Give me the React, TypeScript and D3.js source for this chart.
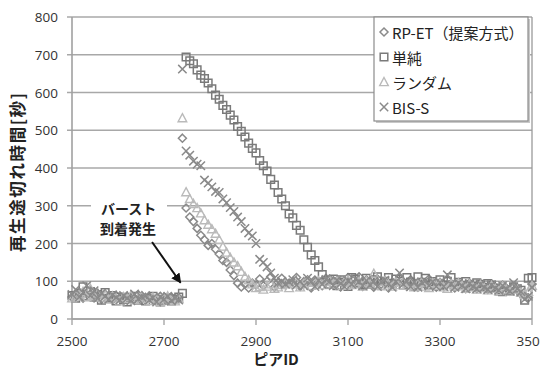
import React from 'react';
import * as d3 from 'd3';

// Peer IDs sampled every 8 peers
const peerIds: number[] = d3.range(2500, 3501, 8);
const xTicks = [2500, 2700, 2900, 3100, 3300, 3500];
const yTicks = [0, 100, 200, 300, 400, 500, 600, 700, 800];
const legendNames = ['RP-ET（提案方式）', '単純', 'ランダム', 'BIS-S'];

const rpEt = [
  58, 62, 70, 55, 78, 65, 72, 60, 52, 66,
  58, 50, 62, 55, 48, 60, 57, 52, 64, 55,
  50, 58, 53, 47, 60, 55, 50, 58, 52, 56,
  479, 294, 270, 258, 240, 222, 210, 195, 200, 185,
  172, 155, 150, 130, 115, 95, 85, 92, 82, 95,
  90, 106, 88, 100, 112, 84, 97, 108, 90, 95,
  99, 110, 86, 93, 104, 82, 103, 98, 88, 108,
  106, 90, 102, 85, 100, 110, 92, 93, 112, 86,
  104, 96, 84, 106, 92, 100, 82, 98, 95, 108,
  97, 86, 104, 96, 84, 98, 90, 106, 95, 84,
  97, 88, 104, 94, 82, 96, 90, 80, 94, 86,
  80, 93, 86, 78, 91, 84, 76, 90, 82, 74,
  88, 80, 66, 62, 56, 92,
];

const tanjun = [
  62, 55, 68, 85, 60, 72, 58, 65, 50, 70,
  55, 62, 48, 58, 52, 45, 56, 60, 50, 54,
  48, 55, 60, 52, 45, 50, 56, 48, 53, 58,
  68, 694, 684, 676, 660, 646, 637, 625, 610, 593,
  582, 566, 555, 540, 527, 510, 497, 482, 466, 452,
  440, 420, 406, 392, 370, 355, 335, 318, 300, 278,
  268, 248, 235, 210, 190, 170, 155, 138, 118, 102,
  92, 106, 88, 104, 98, 86, 110, 106, 94, 90,
  108, 92, 104, 112, 88, 100, 110, 94, 106, 100,
  90, 110, 98, 86, 112, 97, 108, 90, 99, 88,
  104, 90, 100, 110, 86, 97, 88, 99, 92, 86,
  96, 92, 84, 94, 90, 82, 74, 72, 76, 73,
  85, 80, 76, 50, 108, 110,
];

const randomSel = [
  55, 60, 65, 72, 58, 80, 62, 68, 57, 63,
  52, 60, 55, 47, 58, 53, 62, 50, 56, 60,
  54, 48, 57, 52, 45, 55, 60, 50, 47, 53,
  532, 336, 318, 305, 294, 280, 262, 250, 238, 226,
  210, 192, 176, 162, 150, 140, 125, 112, 103, 92,
  82, 85, 78, 86, 92, 80, 84, 90, 95, 82,
  92, 96, 84, 94, 98, 88, 96, 100, 90, 98,
  102, 92, 100, 88, 98, 103, 90, 92, 99, 86,
  100, 92, 120, 98, 88, 100, 92, 86, 98, 90,
  98, 88, 96, 84, 94, 97, 86, 82, 95, 88,
  94, 84, 80, 93, 86, 95, 88, 80, 92, 84,
  78, 90, 82, 76, 88, 80, 74, 87, 78, 72,
  85, 78, 70, 64, 72, 88,
];

const bisS = [
  65, 78, 58, 70, 88, 62, 75, 55, 68, 60,
  52, 64, 57, 50, 62, 55, 48, 66, 53, 58,
  62, 50, 56, 45, 58, 52, 60, 48, 55, 50,
  662, 445, 434, 418, 410, 406, 368, 360, 350, 338,
  335, 318, 308, 295, 285, 270, 258, 240, 228, 220,
  200, 158, 150, 138, 122, 108, 95, 100, 92, 98,
  104, 90, 100, 88, 108, 99, 86, 102, 92, 105,
  100, 88, 103, 94, 86, 101, 92, 106, 99, 88,
  102, 90, 100, 86, 98, 103, 92, 84, 99, 122,
  92, 100, 86, 98, 84, 97, 101, 88, 99, 86,
  97, 86, 117, 92, 84, 96, 88, 80, 94, 86,
  80, 92, 84, 78, 90, 82, 76, 88, 80, 74,
  96, 80, 72, 52, 60, 84,
];

type Shape = 'diamond' | 'square' | 'triangle' | 'cross';

const seriesList: { name: string; values: number[]; shape: Shape; color: string; width: number }[] = [
  { name: legendNames[0], values: rpEt, shape: 'diamond', color: '#8a8a8a', width: 1.5 },
  { name: legendNames[1], values: tanjun, shape: 'square', color: '#7a7a7a', width: 1.5 },
  { name: legendNames[2], values: randomSel, shape: 'triangle', color: '#bababa', width: 1.4 },
  { name: legendNames[3], values: bisS, shape: 'cross', color: '#8a8a8a', width: 1.5 },
];

function markerPath(shape: Shape, cx: number, cy: number): string {
  const p = d3.path();
  if (shape === 'diamond') {
    const r = 4;
    p.moveTo(cx, cy - r); p.lineTo(cx + r, cy); p.lineTo(cx, cy + r); p.lineTo(cx - r, cy); p.closePath();
  } else if (shape === 'square') {
    const h = 3.8;
    p.rect(cx - h, cy - h, 2 * h, 2 * h);
  } else if (shape === 'triangle') {
    p.moveTo(cx, cy - 4.5); p.lineTo(cx + 4.3, cy + 3.6); p.lineTo(cx - 4.3, cy + 3.6); p.closePath();
  } else {
    const r = 4.2;
    p.moveTo(cx - r, cy - r); p.lineTo(cx + r, cy + r);
    p.moveTo(cx + r, cy - r); p.lineTo(cx - r, cy + r);
  }
  return p.toString();
}

export default function App() {
  const W = 540, H = 367;
  const left = 72, right = 532, top = 17, bottom = 319;
  const x = d3.scaleLinear().domain([2500, 3500]).range([left, right]);
  const y = d3.scaleLinear().domain([0, 800]).range([bottom, top]);
  const numFont = '"Open Sans", "DejaVu Sans", sans-serif';
  const jpFont = '"Noto Sans CJK JP", "Noto Sans", sans-serif';
  const gridColor = '#a8a8a8';

  // annotation anchor (data coords)
  const arrowFrom = [x(2674), y(204)];
  const arrowTo = [x(2736), y(96)];

  return (
    <svg width={W} height={H} style={{ position: 'absolute', left: 0, top: 0, background: '#fff' }}>
      <defs>
        <marker id="ah" viewBox="0 0 10 10" refX="9" refY="5" markerWidth="5" markerHeight="5" orient="auto">
          <path d="M0,0 L10,5 L0,10 Z" fill="#111" />
        </marker>
      </defs>
      <rect x={0} y={0} width={W} height={H} fill="#fff" />
      {/* gridlines */}
      {yTicks.map(t => (
        <line key={'g' + t} x1={left - 5} x2={right} y1={y(t)} y2={y(t)} stroke={gridColor} strokeWidth={1.3} />
      ))}
      {/* frame */}
      <line x1={right} x2={right} y1={top} y2={bottom} stroke="#9a9a9a" strokeWidth={1.3} />
      <line x1={left} x2={left} y1={top} y2={bottom} stroke="#a0a0a0" strokeWidth={1.6} />
      <line x1={left} x2={right} y1={bottom} y2={bottom} stroke="#a0a0a0" strokeWidth={1.6} />
      {xTicks.map(t => (
        <line key={'xt' + t} x1={x(t)} x2={x(t)} y1={bottom} y2={bottom + 6} stroke="#a0a0a0" strokeWidth={1.3} />
      ))}
      {/* tick labels */}
      {yTicks.map(t => (
        <text key={'yl' + t} x={58} y={y(t)} textAnchor="end" dominantBaseline="central"
          fontFamily={numFont} fontSize={13.5} fill="#333">{t}</text>
      ))}
      {xTicks.map(t => (
        <text key={'xl' + t} x={x(t)} y={341} textAnchor="middle" dominantBaseline="central"
          fontFamily={numFont} fontSize={13.5} fill="#333">{t}</text>
      ))}
      {/* annotation background */}
      <rect x={91} y={197} width={76} height={40} fill="#fff" />
      {/* series markers */}
      {seriesList.map(s => (
        <g key={s.name}>
          {s.values.map((v, i) => (
            <path key={i} d={markerPath(s.shape, x(peerIds[i]), y(v))} fill="none"
              stroke={s.color} strokeWidth={s.width} />
          ))}
        </g>
      ))}
      {/* annotation */}
      <text x={101} y={208} dominantBaseline="central" fontFamily={jpFont} fontWeight="bold" fontSize={14} fill="#222">バースト</text>
      <text x={100} y={228} dominantBaseline="central" fontFamily={jpFont} fontWeight="bold" fontSize={14} fill="#222">到着発生</text>
      <line x1={arrowFrom[0]} y1={arrowFrom[1]} x2={arrowTo[0]} y2={arrowTo[1]} stroke="#111" strokeWidth={2}
        markerEnd="url(#ah)" />
      {/* legend */}
      <rect x={376} y={19} width={154} height={104} fill="#c8c8c8" />
      <rect x={374} y={17} width={154} height={104} fill="#fff" stroke="#8c8c8c" strokeWidth={1.2} />
      {seriesList.map((s, i) => {
        const cy = 32 + i * 25;
        return (
          <g key={'lg' + i}>
            <path d={markerPath(s.shape, 384, cy)} fill="none" stroke={s.color} strokeWidth={s.width} />
            <text x={392} y={cy} dominantBaseline="central" fontFamily={jpFont} fontSize={15} fill="#222">{s.name}</text>
          </g>
        );
      })}
      {/* axis titles */}
      <text transform={`translate(17, ${172.5}) rotate(-90)`} textAnchor="middle" dominantBaseline="central"
        fontFamily={jpFont} fontWeight="bold" fontSize={16.5} fill="#222" textLength={159} lengthAdjust="spacing">再生途切れ時間[秒]</text>
      <text x={276} y={358} textAnchor="middle" dominantBaseline="central" fontFamily={jpFont} fontWeight="bold"
        fontSize={15} fill="#222">ピアID</text>
    </svg>
  );
}
